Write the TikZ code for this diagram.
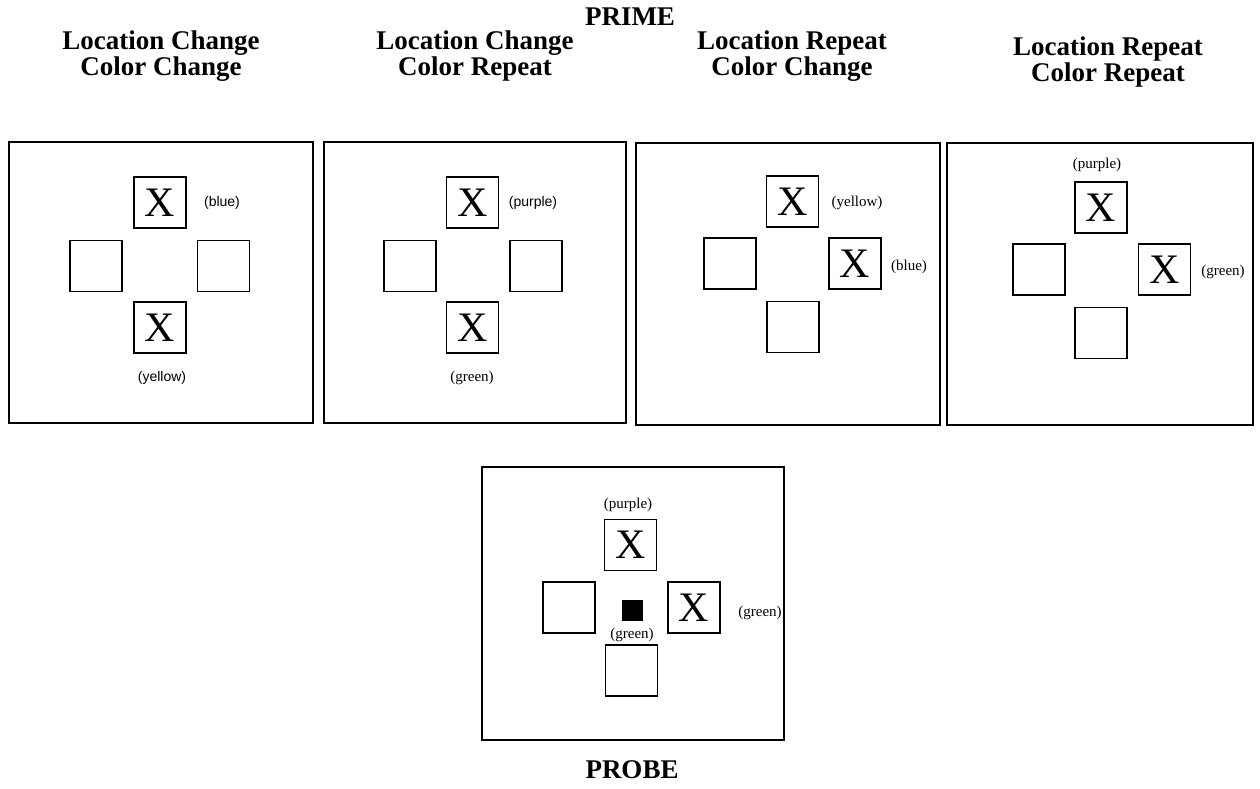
\documentclass[tikz,border=0pt]{standalone}
\usepackage{fontspec}
\setmainfont{Liberation Serif}
\newfontfamily\lblsans{Liberation Sans}
\begin{document}
\begin{tikzpicture}[x=1pt,y=-1pt,
  hdr/.style={font=\bfseries\fontsize{27}{25.5}\selectfont, align=center, inner sep=0pt},
  ttl/.style={font=\bfseries\fontsize{27}{25}\selectfont, inner sep=0pt},
  panel/.style={draw, line width=1.6pt},
  cell/.style={draw, line width=1.7pt, minimum width=52pt, minimum height=51pt, inner sep=0pt,
    font=\fontsize{42}{42}\selectfont},
  lbl/.style={font=\fontsize{15}{15}\selectfont, inner sep=0pt},
  lbls/.style={font=\lblsans\fontsize{14}{15}\selectfont, inner sep=0pt},
  dot/.style={fill=black, minimum size=21pt, inner sep=0pt}
]
\useasboundingbox (0,0) rectangle (1260,789);
% titles
\node[ttl] (prime) at (630,17) {PRIME};
\node[ttl] (probe) at (632,770) {PROBE};
\node[hdr] (h1) at (161,56) {Location Change\\Color Change};
\node[hdr] (h2) at (475,56) {Location Change\\Color Repeat};
\node[hdr] (h3) at (792,56) {Location Repeat\\Color Change};
\node[hdr] (h4) at (1108,62) {Location Repeat\\Color Repeat};
% panels
\draw[panel] (9,142) rectangle (313,423);
\draw[panel] (324,142) rectangle (626,423);
\draw[panel] (636,143) rectangle (940,425);
\draw[panel] (947,143) rectangle (1253,425);
\draw[panel] (482,467) rectangle (784,740);
% panel 1
\node[cell] (a1) at (160,202.5) {X};
\node[cell] (a2) at (96,266) {};
\node[cell] (a3) at (223.5,266) {};
\node[cell] (a4) at (160,327.5) {X};
\node[lbls] (la1) at (222,203) {(blue)};
\node[lbls] (la2) at (162,378) {(yellow)};
% panel 2
\node[cell] (b1) at (472.5,202.5) {X};
\node[cell] (b2) at (410,266) {};
\node[cell] (b3) at (536,266) {};
\node[cell] (b4) at (472.5,327.5) {X};
\node[lbls] (lb1) at (533,203) {(purple)};
\node[lbl] (lb2) at (472,378) {(green)};
% panel 3
\node[cell] (c1) at (792.5,201.5) {X};
\node[cell] (c2) at (730,263.5) {};
\node[cell] (c3) at (855,263.5) {X};
\node[cell] (c4) at (793,327) {};
\node[lbl] (lc1) at (857,203) {(yellow)};
\node[lbl] (lc2) at (909,267) {(blue)};
% panel 4
\node[cell] (d1) at (1101,207.5) {X};
\node[cell] (d2) at (1039,269.5) {};
\node[cell] (d3) at (1164.5,269.5) {X};
\node[cell] (d4) at (1101,333) {};
\node[lbl] (ld1) at (1097,165) {(purple)};
\node[lbl] (ld2) at (1223,272) {(green)};
% probe
\node[cell] (e1) at (630.5,545) {X};
\node[cell] (e2) at (569,607.5) {};
\node[cell] (e3) at (694,607.5) {X};
\node[cell] (e4) at (631.5,670.5) {};
\node[dot] (e0) at (632,610.5) {};
\node[lbl] (le1) at (628,505) {(purple)};
\node[lbl] (le2) at (632,635) {(green)};
\node[lbl] (le3) at (760,613) {(green)};
\end{tikzpicture}
\end{document}
